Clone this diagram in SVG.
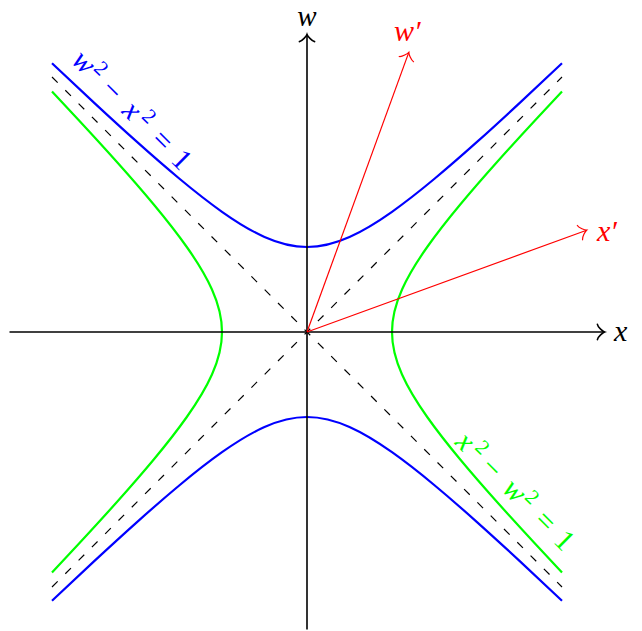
<svg xmlns="http://www.w3.org/2000/svg" xmlns:xlink="http://www.w3.org/1999/xlink" width="642" height="631" viewBox="0 0 642 631">
<style>
.t{font-family:"Liberation Serif",serif;font-style:italic;font-size:30px}
.u{font-style:normal}
.s{font-style:normal;font-size:21px}
.hb{fill:none;stroke:#0000ff;stroke-width:2.2}
.hg{fill:none;stroke:#00ff00;stroke-width:2.2}
.asy{fill:none;stroke:#000;stroke-width:1.2;stroke-dasharray:8 10.8}
.ax{fill:none;stroke:#000;stroke-width:1.6}
.rv{fill:none;stroke:#ff0000;stroke-width:1.2}
</style>
<defs>
<marker id="ak" markerUnits="userSpaceOnUse" orient="auto" overflow="visible" refX="0" refY="0" markerWidth="20" markerHeight="20">
<path d="M-7.1,7.6 C-6.65,4.75 -1.43,0.48 0,0 C-1.43,-0.48 -6.65,-4.75 -7.1,-7.6" fill="none" stroke="#000" stroke-width="1.6" stroke-linecap="round"/>
</marker>
<marker id="ar" markerUnits="userSpaceOnUse" orient="auto" overflow="visible" refX="0" refY="0" markerWidth="20" markerHeight="20">
<path d="M-7.1,7.6 C-6.65,4.75 -1.43,0.48 0,0 C-1.43,-0.48 -6.65,-4.75 -7.1,-7.6" fill="none" stroke="#ff0000" stroke-width="1.2" stroke-linecap="round"/>
</marker>
<path id="br" d="M52,63.21 C66.17,76.65 80.33,89.98 94.5,103.13 C108.67,116.28 122.83,129.26 137,141.93 C151.17,154.6 165.33,166.97 179.5,178.76 C193.67,190.55 207.83,201.77 222,211.79 C236.17,221.81 250.33,230.63 264.5,236.97 C278.67,243.31 292.83,247 307,247 C321.17,247 335.33,243.31 349.5,236.97 C363.67,230.63 377.83,221.81 392,211.79 C406.17,201.77 420.33,190.55 434.5,178.76 C448.67,166.97 462.83,154.6 477,141.93 C491.17,129.26 505.33,116.28 519.5,103.13 C533.67,89.98 547.83,76.65 562,63.21"/>
<path id="bg" d="M66.58,77 C75.88,85.77 85.19,94.49 94.5,103.13 C108.67,116.28 122.83,129.26 137,141.93 C151.17,154.6 165.33,166.97 179.5,178.76 C193.67,190.55 207.83,201.77 222,211.79 C236.17,221.81 250.33,230.63 264.5,236.97 C278.67,243.31 292.83,247 307,247 C321.17,247 335.33,243.31 349.5,236.97 C363.67,230.63 377.83,221.81 392,211.79 C406.17,201.77 420.33,190.55 434.5,178.76 C448.67,166.97 462.83,154.6 477,141.93 C491.17,129.26 505.33,116.28 519.5,103.13 C528.81,94.49 538.12,85.77 547.42,77"/>
</defs>
<g id="asymptotes">
<line class="asy" x1="52" y1="77" x2="562" y2="587"/>
<line class="asy" x1="52" y1="587" x2="562" y2="77"/>
</g>
<g id="hyperbola-blue">
<use xlink:href="#br" class="hb"/>
<use xlink:href="#br" class="hb" transform="matrix(1,0,0,-1,0,664)"/>
</g>
<g id="hyperbola-green">
<use xlink:href="#bg" class="hg" transform="matrix(0,-1,-1,0,639,639)"/>
<use xlink:href="#bg" class="hg" transform="matrix(0,-1,1,0,-25,639)"/>
</g>
<g id="axes">
<line class="ax" x1="9.5" y1="332" x2="604.5" y2="332" marker-end="url(#ak)"/>
<line class="ax" x1="307" y1="629.5" x2="307" y2="34.5" marker-end="url(#ak)"/>
</g>
<g id="boosted">
<line class="rv" x1="307" y1="332" x2="586.6" y2="230.2" marker-end="url(#ar)"/>
<line class="rv" x1="307" y1="332" x2="408.8" y2="52.4" marker-end="url(#ar)"/>
</g>
<g id="labels">
<text class="t" x="307" y="26" text-anchor="middle" style="font-size:29px">w</text>
<text class="t" x="614" y="341">x</text>
<text class="t" x="394" y="41" fill="#ff0000">w′</text>
<text class="t" x="597" y="241" fill="#ff0000">x′</text>
<text class="t" fill="#0000ff" transform="rotate(45)" text-anchor="middle"><tspan x="103.5" y="-6">w</tspan><tspan class="s" x="120" y="-16.5">2</tspan><tspan class="u" x="143.1" y="-6">−</tspan><tspan x="171.3" y="-6">x</tspan><tspan class="s" x="187.8" y="-16.5">2</tspan><tspan class="u" x="214.3" y="-6">=</tspan><tspan class="u" x="241.4" y="-6">1</tspan></text>
<text class="t" fill="#00ff00" transform="rotate(45)" text-anchor="middle"><tspan x="641.2" y="-7.5">x</tspan><tspan class="s" x="657.7" y="-18">2</tspan><tspan class="u" x="678.9" y="-7.5">−</tspan><tspan x="711" y="-7.5">w</tspan><tspan class="s" x="727.8" y="-18">2</tspan><tspan class="u" x="754.3" y="-7.5">=</tspan><tspan class="u" x="781.5" y="-7.5">1</tspan></text>
</g>
</svg>
